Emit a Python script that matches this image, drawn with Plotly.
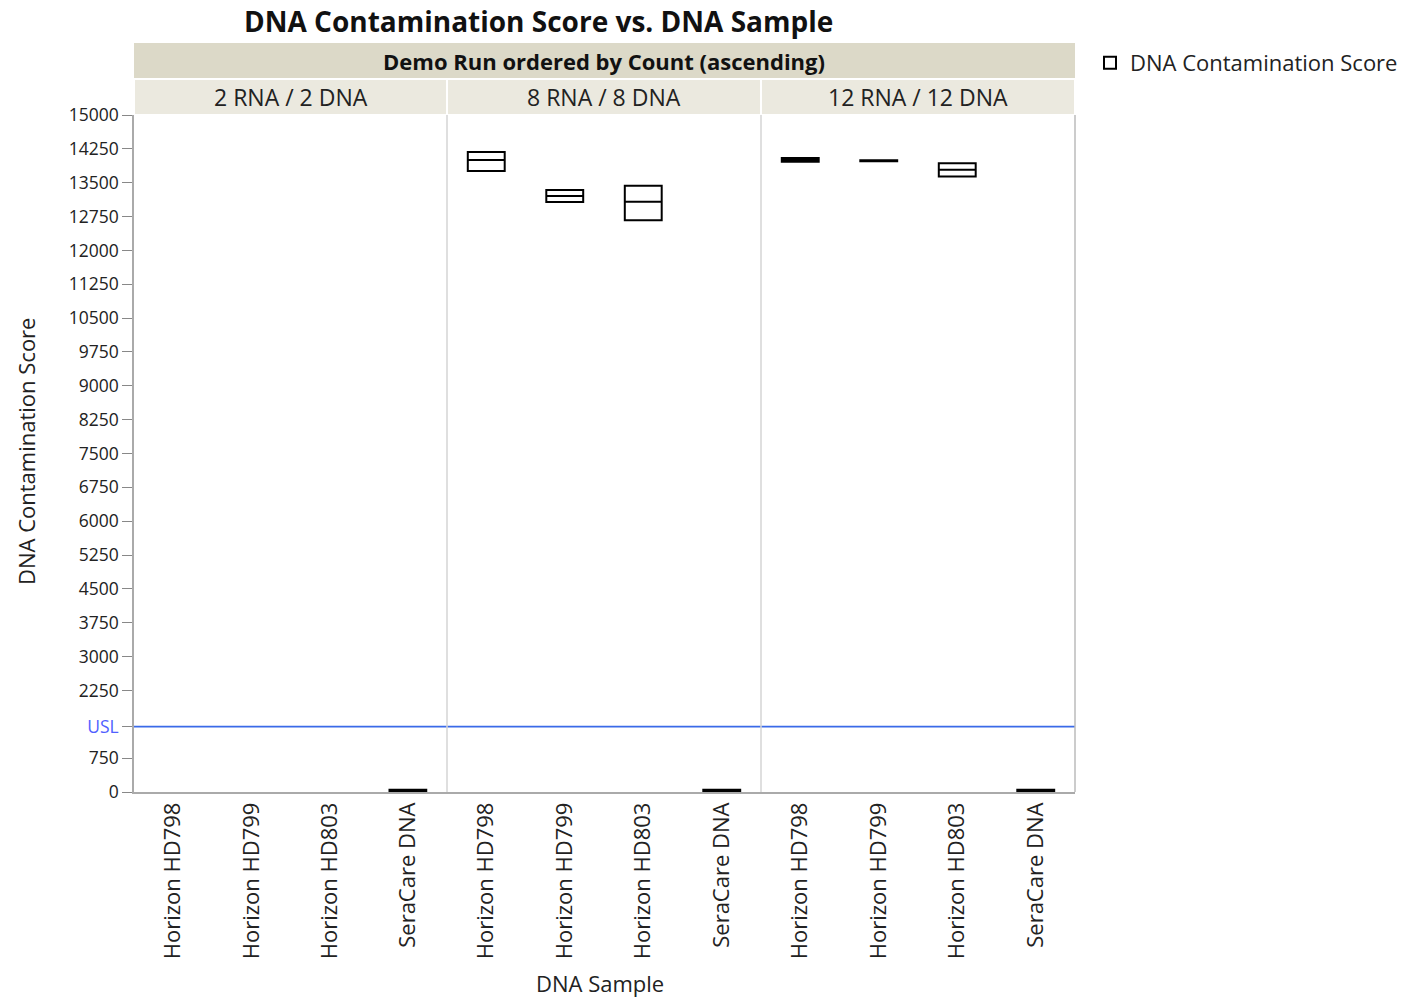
import plotly.graph_objects as go

W, H = 1412, 1001
def xp(px): return px / W
def yp(py): return 1 - py / H

# ---- data ----
panels = ["2 RNA / 2 DNA", "8 RNA / 8 DNA", "12 RNA / 12 DNA"]
samples = ["Horizon HD798", "Horizon HD799", "Horizon HD803", "SeraCare DNA"]
panel_2_q1 = {"SeraCare DNA": 5}
panel_2_med = {"SeraCare DNA": 25}
panel_2_q3 = {"SeraCare DNA": 50}
panel_8_q1 = {"Horizon HD798": 13760, "Horizon HD799": 13070, "Horizon HD803": 12670, "SeraCare DNA": 5}
panel_8_med = {"Horizon HD798": 14005, "Horizon HD799": 13207, "Horizon HD803": 13080, "SeraCare DNA": 25}
panel_8_q3 = {"Horizon HD798": 14180, "Horizon HD799": 13340, "Horizon HD803": 13430, "SeraCare DNA": 50}
panel_12_q1 = {"Horizon HD798": 13965, "Horizon HD799": 13975, "Horizon HD803": 13635, "SeraCare DNA": 5}
panel_12_med = {"Horizon HD798": 14005, "Horizon HD799": 13985, "Horizon HD803": 13785, "SeraCare DNA": 25}
panel_12_q3 = {"Horizon HD798": 14045, "Horizon HD799": 13995, "Horizon HD803": 13930, "SeraCare DNA": 50}
USL = 1450
y_ticks = [0, 750, 2250, 3000, 3750, 4500, 5250, 6000, 6750, 7500, 8250, 9000,
           9750, 10500, 11250, 12000, 12750, 13500, 14250, 15000]

panel_data = [(panel_2_q1, panel_2_med, panel_2_q3),
              (panel_8_q1, panel_8_med, panel_8_q3),
              (panel_12_q1, panel_12_med, panel_12_q3)]

FONT = "Open Sans, Noto Sans, sans-serif"
fig = go.Figure()

x_edges = [134, 447, 761, 1075]
y_top, y_bot = 115, 792

first = True
for i, (q1d, medd, q3d) in enumerate(panel_data):
    xa = "x" if i == 0 else f"x{i+1}"
    for s in samples:
        if s not in q1d:
            continue
        fig.add_trace(go.Box(
            x=[s], q1=[q1d[s]], median=[medd[s]], q3=[q3d[s]],
            lowerfence=[q1d[s]], upperfence=[q3d[s]],
            width=0.47, fillcolor="white",
            line=dict(color="black", width=2),
            boxpoints=False, name="DNA Contamination Score",
            showlegend=first, legendgroup="dna",
            xaxis=xa, yaxis="y", hoverinfo="skip"))
        first = False

layout = dict(
    width=W, height=H, margin=dict(l=0, r=0, t=0, b=0, autoexpand=False),
    plot_bgcolor="white", paper_bgcolor="white",
    font=dict(family=FONT, color="#222"),
    showlegend=True,
    legend=dict(x=xp(1090), y=yp(63), xanchor="left", yanchor="middle",
                font=dict(size=22, color="#222", family=FONT),
                bgcolor="rgba(0,0,0,0)", itemwidth=30, borderwidth=0),
)
tickvals = [0, 750, USL] + y_ticks[2:]
ticktext = ["0", "750", "<span style='color:#5060ff'>USL</span>"] + [str(v) for v in y_ticks[2:]]
layout["yaxis"] = dict(domain=[yp(y_bot), yp(y_top)], range=[0, 15000], anchor="x",
                       tickvals=tickvals, ticktext=ticktext, ticks="outside",
                       ticklen=10, tickcolor="#888", showgrid=False, zeroline=False,
                       showline=True, linecolor="#aaa", linewidth=1.5, automargin=False,
                       tickfont=dict(size=17.5, color="#222", family=FONT))
for i in range(3):
    key = "xaxis" if i == 0 else f"xaxis{i+1}"
    layout[key] = dict(domain=[xp(x_edges[i]), xp(x_edges[i+1])], anchor="y",
                       type="category", categoryorder="array", categoryarray=samples,
                       range=[-0.5, 3.5], tickangle=-90, showgrid=False, zeroline=False,
                       showline=True, linecolor="#aaa", linewidth=1.5, ticks="",
                       automargin=False,
                       tickfont=dict(size=22, color="#222", family=FONT))
fig.update_layout(**layout)

shapes = []
shapes.append(dict(type="line", xref="paper", yref="y", x0=xp(134), x1=xp(1075),
                   y0=USL, y1=USL, line=dict(color="#3a6ae8", width=1.8), layer="above"))
for px_ in [447, 761]:
    shapes.append(dict(type="line", xref="paper", yref="paper", x0=xp(px_), x1=xp(px_),
                       y0=yp(y_bot), y1=yp(y_top), line=dict(color="#d4d4d4", width=1.5)))
shapes.append(dict(type="line", xref="paper", yref="paper", x0=xp(1075), x1=xp(1075),
                   y0=yp(y_bot), y1=yp(y_top), line=dict(color="#bbb", width=1.5)))
shapes.append(dict(type="rect", xref="paper", yref="paper", x0=xp(134), x1=xp(1075),
                   y0=yp(78), y1=yp(43), fillcolor="#dcd9c8", line=dict(width=0)))
for i in range(3):
    shapes.append(dict(type="rect", xref="paper", yref="paper", x0=xp(x_edges[i] + 1),
                       x1=xp(x_edges[i+1] - 1), y0=yp(114), y1=yp(80),
                       fillcolor="#ebe9df", line=dict(width=0)))
fig.update_layout(shapes=shapes)

def A(text, x, y, size, color="#222", angle=0):
    return dict(text=text, x=xp(x), y=yp(y), xref="paper", yref="paper", showarrow=False,
                xanchor="center", yanchor="middle", textangle=angle,
                font=dict(size=size, color=color, family=FONT))

ann = [A("<b>DNA Contamination Score vs. DNA Sample</b>", 538, 21, 28, "#111"),
       A("<b>Demo Run ordered by Count (ascending)</b>", 604, 61, 22, "#111")]
for i, p in enumerate(panels):
    ann.append(A(p, (x_edges[i] + x_edges[i+1]) / 2, 97, 23))
ann.append(A("DNA Sample", 600, 983, 22))
ann.append(A("DNA Contamination Score", 26, 452, 22, angle=-90))
fig.update_layout(annotations=ann)

fig.write_html("out.html", config={"displayModeBar": False},
               post_script="document.body.style.margin='0';document.body.style.overflow='hidden';")
